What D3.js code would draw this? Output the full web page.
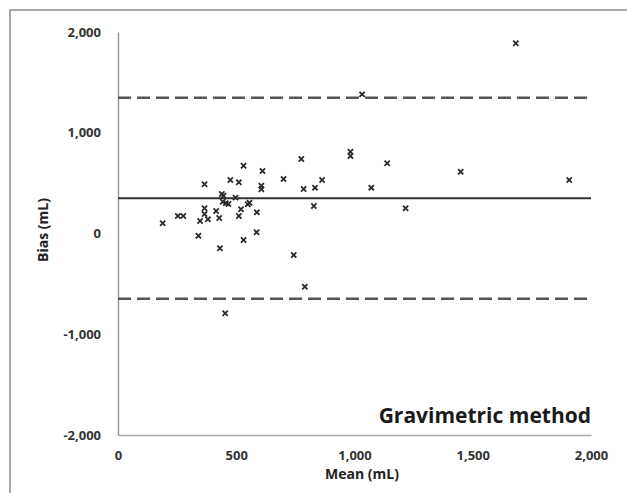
<!DOCTYPE html>
<html><head><meta charset="utf-8">
<script src="https://cdn.jsdelivr.net/npm/d3@7"></script>
<style>html,body{margin:0;padding:0;background:#fff;}svg{display:block;}</style>
</head><body>
<svg id="chart" width="627" height="493"></svg>
<script>
// Data (Bland-Altman: mean vs bias, mL)
const meanValues = [189,253,276,340,347,366,366,366,380,415,428,431,439,446,443,456,467,453,475,497,511,511,520,531,531,549,556,587,586,611,606,606,700,743,775,785,790,828,833,863,1032,983,983,1138,1071,1216,1449,1682,1908];
const biasValues = [101,174,174,-22,124,488,250,194,141,223,154,-147,392,375,316,300,293,-792,531,356,508,174,240,673,-65,290,306,210,12,620,475,439,541,-213,739,442,-528,273,455,531,1381,812,769,697,455,250,613,1888,531];
const meanBias = 350;
const limitsOfAgreement = [1347, -647];
const xTicks = [0, 500, 1000, 1500, 2000];
const yTicks = [2000, 1000, 0, -1000, -2000];
const xTitle = "Mean (mL)";
const yTitle = "Bias (mL)";
const panelLabel = "Gravimetric method";

const svg = d3.select("#chart");
const fmt = d3.format(",");
const font = "'Open Sans', 'Liberation Sans', Arial, sans-serif";

// outer frame
svg.append("rect").attr("x", 10).attr("y", 10).attr("width", 640).attr("height", 500)
  .attr("fill", "none").attr("stroke", "#8a8a8a").attr("stroke-width", 1.5);

const x = d3.scaleLinear().domain([0, 2000]).range([118, 591]);
const y = d3.scaleLinear().domain([-2000, 2000]).range([435, 32]);

// axes lines
const yAxis = d3.axisLeft(y).tickValues(yTicks).tickSize(0).tickFormat(d => d < 0 ? "-" + fmt(-d) : fmt(d)).tickPadding(17);
const gy = svg.append("g").attr("transform", `translate(${x(0)},0)`).call(yAxis);
gy.select(".domain").attr("stroke", "#9a9a9a").attr("stroke-width", 1.5);
gy.selectAll("text").attr("font-family", font).attr("font-weight", "bold").attr("font-size", 13).attr("fill", "#333");

const xAxis = d3.axisBottom(x).tickValues(xTicks).tickSize(0).tickFormat(fmt).tickPadding(16);
const gx = svg.append("g").attr("transform", `translate(0,${y(-2000)})`).call(xAxis);
gx.select(".domain").attr("stroke", "#aaaaaa").attr("stroke-width", 1.5);
gx.selectAll("text").attr("font-family", font).attr("font-weight", "bold").attr("font-size", 13).attr("fill", "#333");

// reference lines
svg.append("line").attr("x1", x(0)).attr("x2", x(2000)).attr("y1", y(meanBias)).attr("y2", y(meanBias))
  .attr("stroke", "#333").attr("stroke-width", 2);
svg.selectAll(".loa").data(limitsOfAgreement).join("line").attr("class", "loa")
  .attr("x1", x(0)).attr("x2", x(2000)).attr("y1", d => y(d)).attr("y2", d => y(d))
  .attr("stroke", "#555").attr("stroke-width", 2.5).attr("stroke-dasharray", "13,6");

// points
const pts = meanValues.map((m, i) => ({m, b: biasValues[i]}));
const s = 2.6;
svg.selectAll(".pt").data(pts).join("path").attr("class", "pt")
  .attr("d", d => {
    const cx = x(d.m), cy = y(d.b);
    return `M${cx-s},${cy-s}L${cx+s},${cy+s}M${cx-s},${cy+s}L${cx+s},${cy-s}`;
  })
  .attr("stroke", "#2a2a2a").attr("stroke-width", 1.8).attr("fill", "none");

// titles
svg.append("text").attr("x", 362).attr("y", 479).attr("text-anchor", "middle")
  .attr("font-family", font).attr("font-weight", "bold").attr("font-size", 14).attr("fill", "#222").text(xTitle);
svg.append("text").attr("transform", "translate(48,230) rotate(-90)").attr("text-anchor", "middle")
  .attr("font-family", font).attr("font-weight", "bold").attr("font-size", 14).attr("fill", "#222").text(yTitle);
svg.append("text").attr("x", 591).attr("y", 423).attr("text-anchor", "end")
  .attr("font-family", font).attr("font-weight", "bold").attr("font-size", 21).attr("fill", "#1a1a1a").text(panelLabel);
</script>
</body></html>
